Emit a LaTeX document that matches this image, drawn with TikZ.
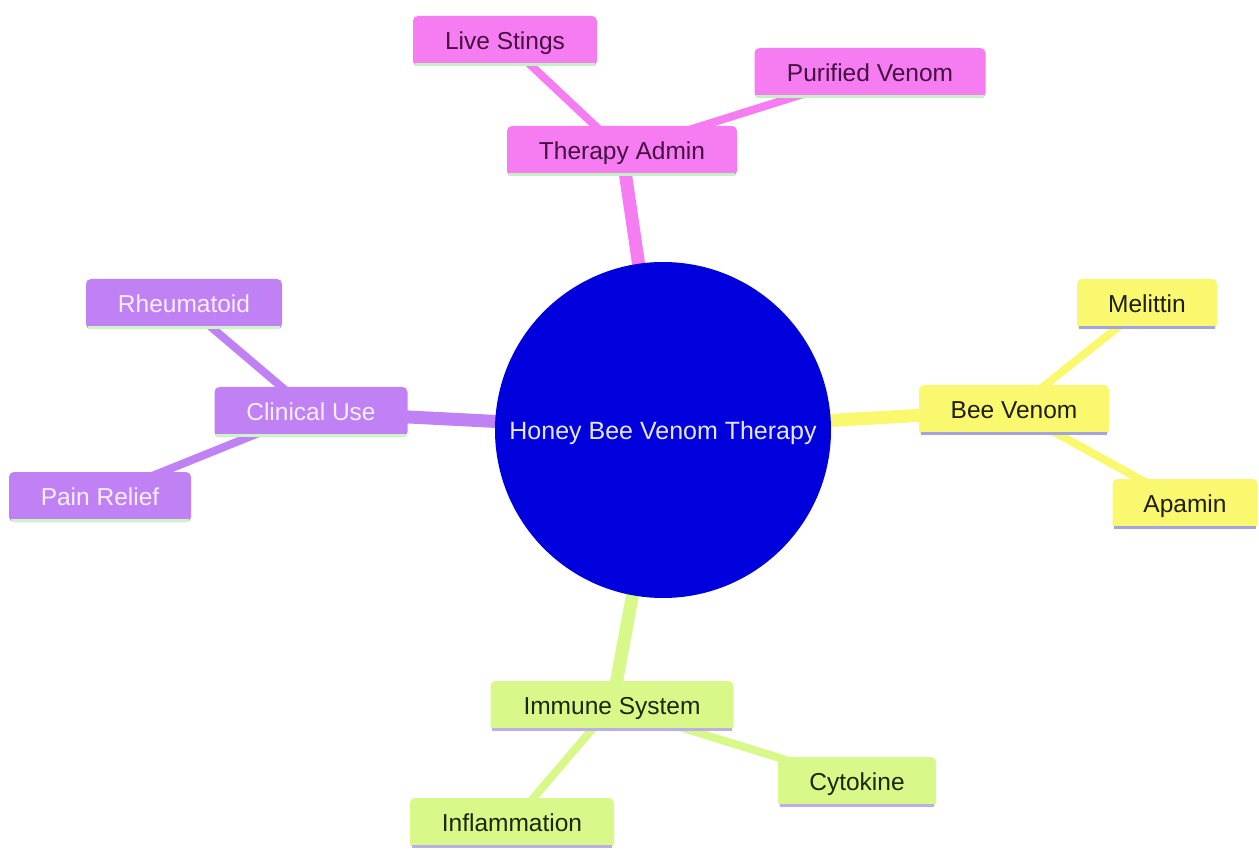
\documentclass[tikz,border=0pt]{standalone}
\usepackage{fontspec}
\setmainfont{Liberation Sans}
\usetikzlibrary{backgrounds}
\definecolor{rootblue}{HTML}{0000DC}
\definecolor{roottext}{HTML}{E6E6FF}
\definecolor{pinkc}{HTML}{F67CF2}
\definecolor{pinktext}{HTML}{45103F}
\definecolor{pinkline}{HTML}{C2F2C2}
\definecolor{purplec}{HTML}{BF81F4}
\definecolor{purpletext}{HTML}{F6EEFF}
\definecolor{purpleline}{HTML}{CDF3C6}
\definecolor{yellowc}{HTML}{FAF86E}
\definecolor{yellowtext}{HTML}{1E1E10}
\definecolor{yellowline}{HTML}{A4A2E0}
\definecolor{greenc}{HTML}{D8F88A}
\definecolor{greentext}{HTML}{1C2608}
\definecolor{greenline}{HTML}{BCAEE6}
\begin{document}
\begin{tikzpicture}[x=1pt,y=-1pt,
  box/.style={rounded corners=5pt, minimum height=50pt, inner sep=0pt,
    text height=22.5pt, text depth=5pt,
    font=\fontsize{24.5}{28}\selectfont},
  pinkbox/.style={box, fill=pinkc, text=pinktext},
  purplebox/.style={box, fill=purplec, text=purpletext},
  yellowbox/.style={box, fill=yellowc, text=yellowtext},
  greenbox/.style={box, fill=greenc, text=greentext},
  mainedge/.style={line width=13pt},
  subedge/.style={line width=8pt}]
\useasboundingbox (0,0) rectangle (1259,850);

\node[circle, fill=rootblue, text=roottext, minimum size=336pt, inner sep=0pt,
  text height=23pt, text depth=5pt,
  font=\fontsize{25}{28}\selectfont] (root) at (663,430) {Honey Bee Venom Therapy};

\node[pinkbox, minimum width=230pt] (admin) at (622,151) {Therapy Admin};
\node[pinkbox, minimum width=184pt] (live) at (505,41) {Live Stings};
\node[pinkbox, minimum width=231pt] (pure) at (870,73) {Purified Venom};

\node[yellowbox, minimum width=190pt] (bee) at (1014,410) {Bee Venom};
\node[yellowbox, minimum width=140pt] (mel) at (1147,304) {Melittin};
\node[yellowbox, minimum width=145pt] (apa) at (1185,504) {Apamin};

\node[purplebox, minimum width=193pt] (clin) at (311,412) {Clinical Use};
\node[purplebox, minimum width=196pt] (rheu) at (184,304) {Rheumatoid};
\node[purplebox, minimum width=182pt] (pain) at (100,497) {Pain Relief};

\node[greenbox, minimum width=243pt] (imm) at (612,706) {Immune System};
\node[greenbox, minimum width=158pt] (cyto) at (857,782) {Cytokine};
\node[greenbox, minimum width=204pt] (infl) at (512,823) {Inflammation};

\begin{scope}[on background layer]
  \draw[mainedge, pinkc] (root.center) -- (admin.center);
  \draw[subedge, pinkc] (admin.center) -- (live.center);
  \draw[subedge, pinkc] (admin.center) -- (pure.center);
  \draw[mainedge, yellowc] (root.center) -- (bee.center);
  \draw[subedge, yellowc] (bee.center) -- (mel.center);
  \draw[subedge, yellowc] (bee.center) -- (apa.center);
  \draw[mainedge, purplec] (root.center) -- (clin.center);
  \draw[subedge, purplec] (clin.center) -- (rheu.center);
  \draw[subedge, purplec] (clin.center) -- (pain.center);
  \draw[mainedge, greenc] (root.center) -- (imm.center);
  \draw[subedge, greenc] (imm.center) -- (cyto.center);
  \draw[subedge, greenc] (imm.center) -- (infl.center);
\end{scope}

\foreach \n in {admin,live,pure}
  \draw[pinkline, line width=3pt] ([xshift=2pt,yshift=1.5pt]\n.south west) -- ([xshift=-2pt,yshift=1.5pt]\n.south east);
\foreach \n in {bee,mel,apa}
  \draw[yellowline, line width=3pt] ([xshift=2pt,yshift=1.5pt]\n.south west) -- ([xshift=-2pt,yshift=1.5pt]\n.south east);
\foreach \n in {clin,rheu,pain}
  \draw[purpleline, line width=3pt] ([xshift=2pt,yshift=1.5pt]\n.south west) -- ([xshift=-2pt,yshift=1.5pt]\n.south east);
\foreach \n in {imm,cyto,infl}
  \draw[greenline, line width=3pt] ([xshift=2pt,yshift=1.5pt]\n.south west) -- ([xshift=-2pt,yshift=1.5pt]\n.south east);
\end{tikzpicture}
\end{document}
